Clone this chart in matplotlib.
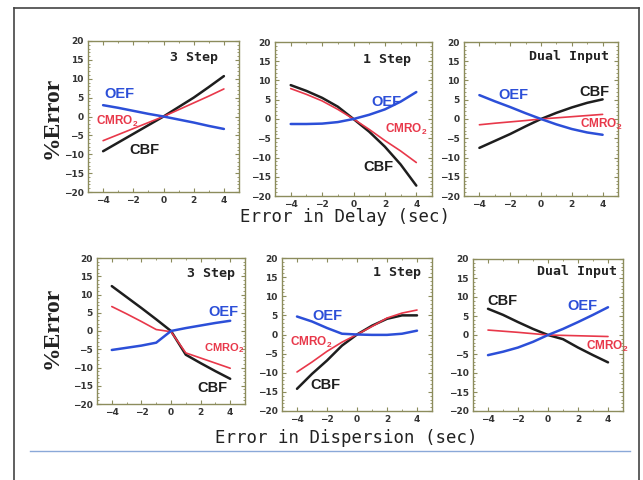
import matplotlib
matplotlib.use("Agg")
import matplotlib.pyplot as plt
from matplotlib.lines import Line2D
from matplotlib.ticker import MultipleLocator
from matplotlib import font_manager

x = [-4, -3, -2, -1, 0, 1, 2, 3, 4]

# Row 1: Error in Delay
d3_cbf = [-9.2, -6.9, -4.6, -2.3, 0, 2.5, 5.0, 7.8, 10.7]
d3_cmro2 = [-6.4, -4.8, -3.2, -1.6, 0, 1.8, 3.6, 5.4, 7.3]
d3_oef = [3.0, 2.3, 1.5, 0.7, 0, -0.8, -1.6, -2.5, -3.3]

d1_cbf = [8.8, 7.3, 5.5, 3.2, 0, -3.3, -7.2, -11.8, -17.3]
d1_cmro2 = [7.9, 6.4, 4.7, 2.5, 0, -2.7, -5.6, -8.3, -11.3]
d1_oef = [-1.3, -1.3, -1.2, -0.8, 0, 1.1, 2.5, 4.5, 7.0]

dd_cbf = [-7.5, -5.7, -3.9, -1.9, 0, 1.6, 3.0, 4.2, 5.1]
dd_cmro2 = [-1.5, -1.1, -0.75, -0.4, 0, 0.3, 0.6, 0.9, 1.2]
dd_oef = [6.2, 4.6, 3.1, 1.5, 0, -1.4, -2.6, -3.5, -4.1]

# Row 2: Error in Dispersion
s3_cbf = [12.3, 9.3, 6.3, 3.2, 0, -6.5, -8.8, -11.0, -13.1]
s3_cmro2 = [6.7, 4.7, 2.6, 0.4, -0.2, -6.0, -7.4, -8.8, -10.2]
s3_oef = [-5.2, -4.6, -4.0, -3.2, 0, 0.8, 1.5, 2.2, 2.8]

s1_cbf = [-14.2, -10.3, -6.8, -2.9, 0, 2.3, 4.1, 5.0, 5.0]
s1_cmro2 = [-9.8, -7.2, -4.4, -2.0, 0, 2.1, 4.3, 5.6, 6.4]
s1_oef = [4.7, 3.4, 1.7, 0.2, 0, -0.1, -0.1, 0.2, 1.0]

sd_cbf = [6.9, 5.3, 3.4, 1.6, 0, -1.1, -3.3, -5.3, -7.2]
sd_cmro2 = [1.3, 1.0, 0.7, 0.35, 0, -0.1, -0.2, -0.3, -0.4]
sd_oef = [-5.3, -4.4, -3.3, -1.8, 0, 1.6, 3.4, 5.3, 7.3]

titles = ["3 Step", "1 Step", "Dual Input", "3 Step", "1 Step", "Dual Input"]
xlabels = ["Error in Delay (sec)", "Error in Dispersion (sec)"]
ylabel = "%Error"
series_names = ["CBF", "CMRO2", "OEF"]

C_BLACK = "#1e1e1e"
C_RED = "#e8384a"
C_BLUE = "#2c4fd8"
SPINE = "#8c8c5c"

avail = {f.name for f in font_manager.fontManager.ttflist}
narrow = "Liberation Sans Narrow" if "Liberation Sans Narrow" in avail else "Liberation Sans"

W, H = 643, 480
fig = plt.figure(figsize=(W / 100, H / 100), dpi=100)

def px_axes(x0, y0, x1, y1):
    return fig.add_axes([x0 / W, 1 - y1 / H, (x1 - x0) / W, (y1 - y0) / H])

rects = [(88, 41, 239, 192), (275, 42, 432, 196), (464, 42, 618, 196),
         (97, 258, 245, 404), (282, 258, 432, 411), (473, 259, 623, 411)]

data = [(d3_cbf, d3_cmro2, d3_oef), (d1_cbf, d1_cmro2, d1_oef), (dd_cbf, dd_cmro2, dd_oef),
        (s3_cbf, s3_cmro2, s3_oef), (s1_cbf, s1_cmro2, s1_oef), (sd_cbf, sd_cmro2, sd_oef)]

# label positions: (x_left, y_center, size) for CBF, CMRO2, OEF
label_pos = [
    [(-2.25, -9.0, 10.5), (-4.5, -1.4, 8.5), (-3.93, 6.0, 10.5)],
    [(0.6, -12.4, 10.5), (2.0, -2.6, 8.5), (1.15, 4.5, 10.5)],
    [(2.5, 7.1, 10.5), (2.5, -1.5, 8.5), (-2.75, 6.2, 10.5)],
    [(1.8, -15.7, 10.5), (2.2, -4.6, 8), (2.5, 5.2, 10.5)],
    [(-3.1, -13.3, 10.5), (-4.45, -2.0, 8.5), (-3.0, 4.8, 10.5)],
    [(-4.05, 8.9, 10.5), (2.5, -2.9, 8.5), (1.3, 7.7, 10.5)],
]
title_pos = [(0.45, 15.7), (0.6, 15.5), (-0.8, 16.3), (1.05, 15.8), (1.05, 16.3), (-0.75, 16.7)]

colors = [C_BLACK, C_RED, C_BLUE]
lws = [1.8, 1.2, 1.8]

for i, (r, ser) in enumerate(zip(rects, data)):
    ax = px_axes(*r)
    for s, c, lw in zip(ser, colors, lws):
        ax.plot(x, s, color=c, lw=lw, solid_capstyle="round")
    ax.set_xlim(-5, 5)
    ax.set_ylim(-20, 20)
    ax.xaxis.set_major_locator(MultipleLocator(2))
    ax.xaxis.set_minor_locator(MultipleLocator(1))
    ax.yaxis.set_major_locator(MultipleLocator(5))
    ax.yaxis.set_minor_locator(MultipleLocator(1))
    ax.tick_params(which="both", direction="in", top=True, right=True, color=SPINE)
    ax.tick_params(which="major", length=3, width=0.8)
    ax.tick_params(which="minor", length=1.5, width=0.6)
    ax.tick_params(labelsize=6.5, labelcolor="#333333", pad=3)
    for lab in ax.get_xticklabels() + ax.get_yticklabels():
        lab.set_fontweight("bold")
    for sp in ax.spines.values():
        sp.set_color(SPINE)
        sp.set_linewidth(1.0)
    names = ["CBF", r"CMRO$_\mathregular{2}$", "OEF"]
    for (lx, ly, fs), nm, c in zip(label_pos[i], names, colors):
        ax.text(lx, ly, nm, color=c, fontsize=fs, fontweight="bold",
                family=[narrow, "DejaVu Sans"], ha="left", va="center")
    tx, ty = title_pos[i]
    ax.text(tx, ty, titles[i], fontsize=9.5, family="DejaVu Sans Mono", fontweight="bold",
            color="#222222", ha="left", va="center")

fig.text(345 / W, 1 - 217 / H, xlabels[0], fontsize=12.5, family="DejaVu Sans Mono",
         color="#222222", ha="center", va="center")
fig.text(346 / W, 1 - 438 / H, xlabels[1], fontsize=12.5, family="DejaVu Sans Mono",
         color="#222222", ha="center", va="center")
for yc in (118, 328):
    fig.text(52 / W, 1 - yc / H, ylabel, fontsize=17, family="Liberation Serif",
             fontweight="bold", rotation=90, color="#222222", ha="center", va="center")

# outer frame and separator line
fig.add_artist(Line2D([14 / W, 14 / W], [0, 1 - 8 / H], color="#444444", lw=1.2))
fig.add_artist(Line2D([14 / W, 639 / W], [1 - 8 / H, 1 - 8 / H], color="#444444", lw=1.2))
fig.add_artist(Line2D([639 / W, 639 / W], [0, 1 - 8 / H], color="#444444", lw=1.2))
fig.add_artist(Line2D([30 / W, 630 / W], [1 - 451 / H, 1 - 451 / H], color="#8aa8d8", lw=1.0))

fig.savefig("out.png", dpi=100)
